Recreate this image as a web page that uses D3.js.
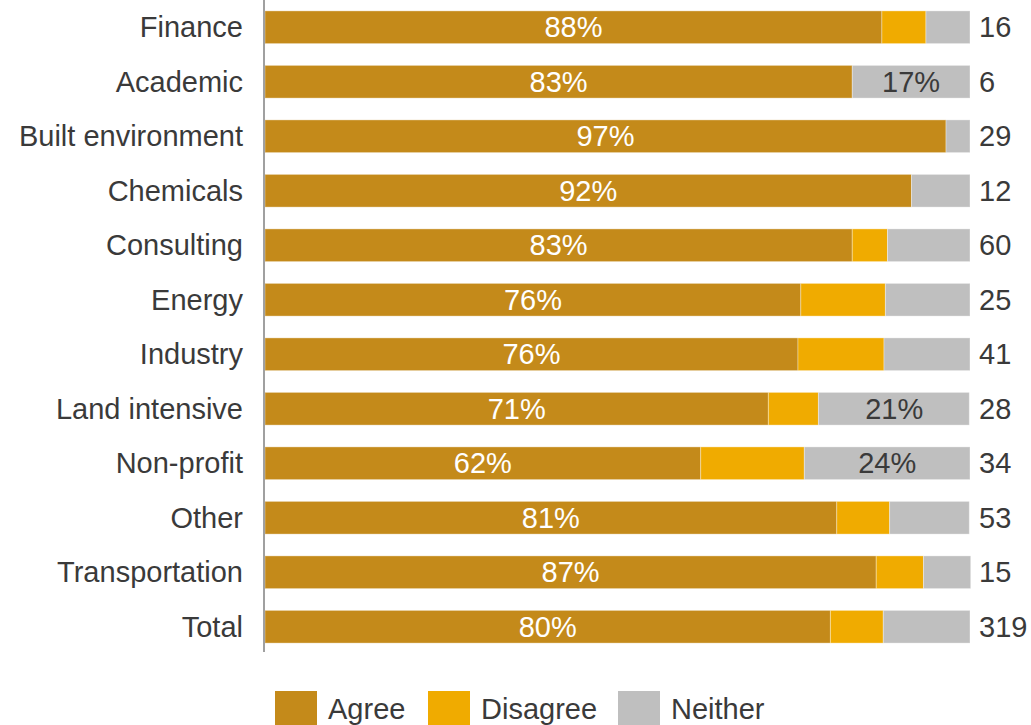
<!DOCTYPE html>
<html><head><meta charset="utf-8">
<script src="https://cdn.jsdelivr.net/npm/d3@7"></script>
<style>body{margin:0;background:#fff}svg{display:block}text{font-family:"Liberation Sans",Arial,sans-serif}</style>
</head><body>
<svg id="c" width="1031" height="725"></svg>
<script>
const categories = ["Finance","Academic","Built environment","Chemicals","Consulting","Energy","Industry","Land intensive","Non-profit","Other","Transportation","Total"];
const agree    = [87.5, 83.3, 96.6, 91.7, 83.3, 76.0, 75.6, 71.4, 61.8, 81.1, 86.7, 80.2];
const disagree = [6.25, 0, 0, 0, 5.0, 12.0, 12.2, 7.1, 14.7, 7.5, 6.7, 7.5];
const neither  = [6.25, 16.7, 3.4, 8.3, 11.7, 12.0, 12.2, 21.4, 23.5, 11.3, 6.7, 12.3];
const counts   = [16, 6, 29, 12, 60, 25, 41, 28, 34, 53, 15, 319];
const agreeLabels   = ["88%","83%","97%","92%","83%","76%","76%","71%","62%","81%","87%","80%"];
const neitherLabels = ["","17%","","","","","","21%","24%","","",""];
const seriesNames = ["Agree","Disagree","Neither"];
const colors = ["#C48A1A","#F0AB00","#BFBFBF"];

const svg = d3.select("#c");
const x = d3.scaleLinear().domain([0,100]).range([265,970]);
const y = d3.scaleBand().domain(categories).range([0,654]).paddingInner(0.4).paddingOuter(0.2);

const rows = categories.map((c,i)=>({c, vals:[agree[i],disagree[i],neither[i]]}));
rows.forEach((r,i)=>{
  let acc=0;
  r.vals.forEach((v,k)=>{
    if(v<=0) return;
    svg.append("rect").attr("x",x(acc)).attr("y",y(r.c))
      .attr("width",x(acc+v)-x(acc)).attr("height",y.bandwidth())
      .attr("fill",colors[k]).attr("stroke","#fff").attr("stroke-opacity",0.35).attr("stroke-width",1);
    acc+=v;
  });
});
const fs = 29;
const txt = "#3a3a3a";
svg.selectAll(".al").data(categories).join("text")
  .attr("x",(d,i)=>(x(0)+x(agree[i]))/2).attr("y",d=>y(d)+y.bandwidth()/2).attr("dy","0.35em")
  .attr("text-anchor","middle").attr("fill","#fff").attr("font-size",fs).text((d,i)=>agreeLabels[i]);
svg.selectAll(".nl").data(categories).join("text")
  .attr("x",(d,i)=>(x(agree[i]+disagree[i])+x(100))/2).attr("y",d=>y(d)+y.bandwidth()/2).attr("dy","0.35em")
  .attr("text-anchor","middle").attr("fill",txt).attr("font-size",fs).text((d,i)=>neitherLabels[i]);
svg.selectAll(".cl").data(categories).join("text")
  .attr("x",243).attr("y",d=>y(d)+y.bandwidth()/2).attr("dy","0.35em")
  .attr("text-anchor","end").attr("fill",txt).attr("font-size",fs).text(d=>d);
svg.selectAll(".cn").data(categories).join("text")
  .attr("x",979).attr("y",d=>y(d)+y.bandwidth()/2).attr("dy","0.35em")
  .attr("fill",txt).attr("font-size",fs).text((d,i)=>counts[i]);
svg.append("line").attr("x1",264).attr("x2",264).attr("y1",0).attr("y2",652)
  .attr("stroke","#808080").attr("stroke-width",1.5);
const legX = [275,428,618];
seriesNames.forEach((n,k)=>{
  svg.append("rect").attr("x",legX[k]).attr("y",691).attr("width",42).attr("height",34).attr("fill",colors[k]);
  svg.append("text").attr("x",legX[k]+53).attr("y",719).attr("fill",txt)
    .attr("font-size",fs).text(n);
});
</script>
</body></html>
